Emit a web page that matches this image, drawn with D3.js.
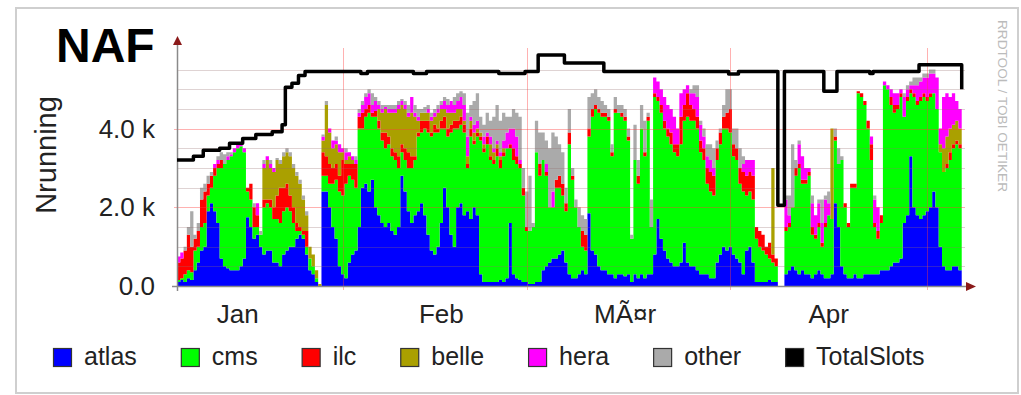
<!DOCTYPE html>
<html>
<head>
<meta charset="utf-8">
<script src="https://cdn.jsdelivr.net/npm/d3@7"></script>
<style>
  body { margin: 0; background: #fff; }
  svg { display: block; }
  text { font-family: "Liberation Sans", Arial, sans-serif; }
</style>
</head>
<body>
<svg id="chart" width="1021" height="395"></svg>
<script>
// Batch slots in use per experiment, sampled every 12 hours (Jan 6 18:00 .. May 6)
const seriesNames = ["atlas", "cms", "ilc", "belle", "hera", "other"];
const seriesColors = ["#0000ff", "#00ff00", "#ff0000", "#aaa000", "#ff00ff", "#aaaaaa"];
const monthLabels = ["Jan", "Feb", "MÃ¤r", "Apr"];
const yTickValues = [0, 2000, 4000];
const yTickLabels = ["0.0", "2.0 k", "4.0 k"];

const atlas = [100,150,100,200,150,400,600,900,1000,1900,
2100,1900,1600,700,500,450,400,400,400,500,
700,1750,1500,1200,1300,1000,800,900,900,600,
600,500,800,900,1000,1000,1200,1300,1200,800,
400,300,100,0,2400,2400,2000,1500,1200,500,
300,200,600,800,900,1500,2500,2600,2400,
2700,2000,1800,1600,1500,1600,1400,1300,1500,2800,
2400,1900,1600,1800,1900,2100,1800,1300,900,800,
1000,1600,2500,2000,1300,1000,2000,2100,1800,1900,
1700,2000,1800,300,100,100,100,100,100,150,
100,200,1600,300,200,150,100,100,50,50,
100,100,400,500,600,700,700,800,900,600,
300,200,200,300,400,300,1850,900,800,500,
400,400,300,300,200,300,300,250,300,100,
300,200,300,200,300,300,800,1700,1200,900,
700,600,500,500,600,1100,600,500,500,400,
300,300,300,200,200,600,800,1000,900,1000,
800,700,600,300,900,1000,600,100,100,100,
100,150,100,100,0,0,300,400,500,400,
300,400,300,300,200,300,400,300,200,200,
300,2100,1500,500,300,200,200,300,200,200,
300,300,300,300,300,400,400,400,500,600,
600,700,1600,1800,3300,2000,1800,1700,1800,1900,
2000,2400,2000,1000,500,400,400,500,500,400];

const cms = [50,50,200,200,200,500,400,600,600,400,
400,900,1400,2300,2600,2750,2900,3000,3100,3050,
2700,650,700,300,200,300,1200,1200,1100,1100,
1100,1100,1100,1100,900,600,200,100,100,200,
300,200,100,0,400,400,600,1100,1500,1900,
2000,2400,2200,1900,1600,2500,1500,1700,2000,
1600,2300,2200,2100,2000,2000,1900,1900,1500,600,
800,1100,1400,1400,1900,1800,2200,2600,2900,3100,
2900,2400,1500,1800,2600,3000,2000,2000,2100,1100,
2100,1600,2000,3400,3300,3500,3100,3000,3200,2850,
3200,3300,1900,2900,2900,2850,2200,1300,1350,1450,
3300,2700,2800,2300,1400,1300,1800,1700,1400,1300,
3300,2500,1800,1200,600,600,1950,3400,3700,3900,
3900,3900,3900,3000,4200,4100,4000,3950,3400,1100,
2900,2400,3700,3100,3900,1200,4000,3000,3200,3100,
3100,3000,2900,2800,3000,3100,3700,3700,3700,3600,
3100,2900,2300,2200,2100,2600,2800,3000,3100,2900,
2500,2500,2000,2100,1400,1400,1600,1100,900,800,
700,550,500,400,0,0,1100,1100,1500,2400,
2700,2200,2300,2500,1100,900,1100,700,1300,1600,
1400,1600,1600,2700,1700,1300,2300,2200,4700,4600,
4300,3700,2900,1200,900,1200,4700,4600,4100,3800,
3900,4100,2700,2900,1600,2800,2800,3000,3000,2800,
2800,2500,2500,2400,2400,2600,2800,3000,3100,3100];

const ilc = [450,500,600,900,650,300,400,700,800,300,
300,200,100,200,0,0,0,0,0,0,
0,100,400,500,300,0,200,100,200,300,
600,900,600,600,400,400,200,100,100,400,
0,0,0,0,600,500,500,400,400,400,
900,500,300,400,600,300,400,200,200,
100,150,200,200,400,200,200,200,300,200,
300,400,300,100,100,300,200,300,100,200,
100,200,300,200,200,200,200,200,200,100,
200,100,100,100,100,200,100,100,200,200,
100,0,100,300,200,100,200,100,0,0,
0,300,0,100,0,0,200,300,300,200,
300,100,0,0,400,400,200,200,100,100,
100,100,100,100,100,0,100,100,100,0,
0,200,0,100,100,0,100,100,200,200,
200,300,200,300,700,400,600,400,300,300,
300,300,400,500,500,300,300,300,400,600,
300,300,400,500,500,500,600,300,400,400,
200,400,200,200,0,0,100,100,0,200,
100,100,100,100,200,100,100,100,100,0,
0,100,0,0,100,100,100,100,50,100,
100,200,400,100,200,200,0,0,200,200,
100,100,0,100,100,100,100,100,100,100,
100,0,0,0,0,100,200,100,100,100];

const belle = [0,0,0,0,0,0,0,0,0,0,
0,0,0,0,0,0,0,0,0,0,
0,0,0,0,0,0,800,1000,800,900,
900,600,800,800,1000,1000,1200,1100,800,400,
300,300,200,50,300,1300,800,500,500,600,
200,100,200,100,0,0,0,0,0,
0,0,300,500,600,600,900,1000,1200,1000,
1000,900,1100,1000,300,200,200,200,300,200,
400,300,200,400,300,200,300,200,100,200,
200,200,100,100,100,0,300,200,100,100,
100,0,0,0,0,0,0,0,0,0,
0,0,0,0,0,0,0,0,0,0,
0,0,0,0,0,0,0,0,0,0,
0,0,0,0,0,0,0,0,0,0,
0,0,0,0,0,0,0,0,0,0,
0,0,0,0,0,0,0,0,0,0,
0,0,0,0,0,0,0,0,0,0,
0,0,0,0,0,0,0,0,0,0,
0,0,2200,0,0,0,0,0,0,0,
0,0,0,0,0,0,0,0,0,0,
2300,0,0,0,0,0,0,0,0,0,
0,0,0,0,0,0,0,0,0,0,
0,0,0,0,0,0,0,0,0,0,
0,0,0,200,600,700,600,500,500,400];

const hera = [150,150,0,0,0,0,0,0,0,0,
0,100,100,0,0,100,50,100,100,50,
100,0,0,0,300,0,100,100,100,100,
0,0,0,0,0,0,0,0,0,0,
0,0,0,0,100,0,100,200,100,200,
100,200,100,100,100,100,200,300,300,
200,250,100,100,50,100,100,100,100,100,
100,100,400,100,100,0,0,100,100,100,
100,100,200,200,300,200,200,300,400,500,
100,200,200,0,200,100,200,100,100,100,
200,400,400,500,500,100,0,0,0,0,
0,0,0,200,0,400,0,0,0,0,
0,0,0,0,0,0,0,0,0,0,
0,0,0,0,0,0,0,0,0,0,
0,0,0,0,0,0,400,400,400,600,
600,600,700,400,600,400,200,300,400,500,
400,300,300,300,200,0,0,0,0,0,
0,0,0,200,400,300,400,0,0,0,
0,0,0,0,0,0,700,200,0,0,
500,600,300,100,600,500,500,500,600,300,
0,0,0,0,0,0,0,0,0,0,
0,0,200,600,600,0,100,100,200,300,
300,100,500,200,100,200,400,400,400,500,
500,500,800,400,1300,1100,800,800,500,500];

const other = [0,0,100,200,900,100,200,300,200,200,
100,0,100,200,250,100,50,0,0,0,
0,0,0,100,0,100,100,0,100,0,
50,100,100,100,100,100,100,100,100,100,
0,0,0,0,50,100,0,0,100,0,
0,100,0,0,100,100,100,100,100,
300,100,100,100,50,100,100,100,100,50,
100,200,0,200,200,100,150,100,100,100,
100,100,100,150,0,200,200,150,300,600,
300,600,700,400,300,500,400,800,900,800,
700,400,300,500,600,1100,500,900,1400,100,
800,800,700,600,1500,1500,1100,800,800,400,
600,200,200,500,400,400,800,400,400,300,
300,200,200,200,300,200,200,200,200,100,
900,400,600,800,100,700,0,0,0,0,
0,0,0,0,0,0,0,100,200,300,
100,200,300,400,500,200,100,300,600,500,
400,500,500,200,0,0,0,0,0,0,
0,0,0,0,0,0,100,500,1600,200,
100,0,0,0,200,0,100,600,100,300,
0,200,400,100,0,0,0,0,0,0,
0,0,0,100,0,0,0,0,0,0,
0,0,100,100,100,200,200,100,100,100,
100,100,0,0,0,0,0,0,0,0];

// Configured slots; the final entry is the reading at the end of the period
const totalSlots = [3200,3200,3200,3200,3200,3300,3300,3300,3450,3450,
3450,3450,3450,3500,3500,3500,3630,3630,3630,3630,
3750,3750,3750,3750,3850,3850,3850,3850,3850,3920,
3920,3920,4100,5050,5050,5150,5150,5350,5350,5450,
5450,5450,5450,5450,5450,5450,5450,5450,5450,5450,
5450,5450,5450,5450,5450,5450,5400,5400,5450,5450,
5450,5450,5450,5450,5450,5450,5450,5450,5450,5450,
5450,5450,5400,5400,5400,5400,5450,5450,5450,5450,
5450,5450,5450,5450,5450,5450,5450,5450,5450,5450,
5450,5450,5450,5450,5450,5450,5450,5450,5400,5400,
5400,5400,5400,5400,5400,5400,5450,5450,5450,5450,
5870,5870,5870,5870,5870,5870,5870,5870,5670,5670,
5670,5670,5670,5670,5670,5670,5670,5670,5670,5670,
5450,5450,5450,5450,5450,5450,5450,5450,5450,5450,
5450,5450,5450,5450,5450,5450,5450,5450,5450,5450,
5450,5450,5450,5450,5450,5450,5450,5450,5450,5450,
5450,5450,5450,5450,5450,5450,5450,5450,5390,5390,
5390,5450,5450,5450,5450,5450,5450,5450,5450,5450,
5450,5450,5450,2050,2050,5450,5450,5450,5450,5450,
5450,5450,5450,5450,5450,5450,5450,4950,4950,4950,
4950,5450,5450,5450,5450,5450,5450,5450,5450,5450,
5450,5400,5450,5450,5450,5450,5450,5450,5450,5450,
5450,5450,5450,5450,5450,5450,5620,5620,5620,5620,
5620,5620,5620,5620,5620,5620,5620,5620,5620,5000];

const seriesValues = [atlas, cms, ilc, belle, hera, other];

const svg = d3.select("#chart");
const plot = { left: 177, right: 965, top: 48, bottom: 286 };
const HALF_DAY = 12 * 3600 * 1000;
const tStart = Date.UTC(2013, 0, 6, 18);
const tEnd = Date.UTC(2013, 4, 6, 18);

const x = d3.scaleUtc().domain([tStart, tEnd]).range([plot.left, plot.right]);
const y = d3.scaleLinear().domain([0, 6000]).range([plot.bottom, 286 - 6000 * 0.03935]);

// frame
svg.append("rect").attr("x", 16).attr("y", 8).attr("width", 1002).attr("height", 385)
  .attr("fill", "#fff").attr("stroke", "#cfcfcf").attr("stroke-width", 2);

// rows for stacking: each sample holds until the next one
const n = atlas.length;
const rows = d3.range(n + 1).map(i => {
  const k = Math.min(i, n - 1);
  const r = { t: tStart + i * HALF_DAY };
  seriesNames.forEach((s, j) => r[s] = seriesValues[j][k]);
  return r;
});
const stacked = d3.stack().keys(seriesNames)(rows);

svg.append("clipPath").attr("id", "plotClip").append("rect")
  .attr("x", plot.left).attr("y", plot.top).attr("width", plot.right - plot.left).attr("height", plot.bottom - plot.top);

const area = d3.area()
  .x(d => x(d.data.t))
  .y0(d => y(d[0]))
  .y1(d => y(d[1]))
  .curve(d3.curveStepAfter);

const gAreas = svg.append("g").attr("clip-path", "url(#plotClip)");
gAreas.selectAll("path").data(stacked).join("path")
  .attr("d", area)
  .attr("fill", (d, i) => seriesColors[i]);

// horizontal grid
const minorTicks = d3.range(500, 6000, 500).filter(v => v % 2000 !== 0);
const gGrid = svg.append("g");
gGrid.selectAll("line.minor").data(minorTicks).join("line")
  .attr("x1", plot.left).attr("x2", plot.right)
  .attr("y1", d => Math.round(y(d)) + 0.5).attr("y2", d => Math.round(y(d)) + 0.5)
  .attr("stroke", "rgba(150,110,110,0.3)").attr("stroke-width", 1);
gGrid.selectAll("line.major").data(yTickValues.filter(v => v > 0)).join("line")
  .attr("x1", plot.left - 3).attr("x2", plot.right)
  .attr("y1", d => Math.round(y(d)) + 0.5).attr("y2", d => Math.round(y(d)) + 0.5)
  .attr("stroke", "rgba(255,60,60,0.4)").attr("stroke-width", 1);

// month boundaries
const monthStarts = d3.utcMonth.range(d3.utcMonth.ceil(tStart), tEnd);
gGrid.selectAll("line.month").data(monthStarts).join("line")
  .attr("x1", d => Math.round(x(d)) + 0.5).attr("x2", d => Math.round(x(d)) + 0.5)
  .attr("y1", plot.top).attr("y2", plot.bottom + 4)
  .attr("stroke", "rgba(255,60,60,0.4)").attr("stroke-width", 1);

// axes
const axisColor = "#8a8a8a";
const arrowColor = "#8b1a1a";
svg.append("line").attr("x1", plot.left + 0.5).attr("x2", plot.left + 0.5)
  .attr("y1", plot.bottom + 5).attr("y2", 42).attr("stroke", axisColor).attr("stroke-width", 1.5);
svg.append("path").attr("d", `M${plot.left + 0.5},36 L${plot.left - 4},45 L${plot.left + 5},45 Z`).attr("fill", arrowColor);
svg.append("line").attr("x1", plot.left - 5).attr("x2", plot.right + 2)
  .attr("y1", plot.bottom + 0.5).attr("y2", plot.bottom + 0.5).attr("stroke", axisColor).attr("stroke-width", 1.5);
svg.append("path").attr("d", `M976,${plot.bottom + 0.5} L966,${plot.bottom - 4} L966,${plot.bottom + 5} Z`).attr("fill", arrowColor);

// total slots
const slotLine = d3.line()
  .x((d, i) => x(tStart + i * HALF_DAY))
  .y(d => y(d))
  .curve(d3.curveStepAfter);
svg.append("path").datum(totalSlots)
  .attr("d", slotLine)
  .attr("fill", "none").attr("stroke", "#000").attr("stroke-width", 3.5)
  .attr("stroke-linejoin", "round").attr("stroke-linecap", "butt");

// y tick labels
svg.selectAll("text.ytick").data(yTickValues).join("text")
  .attr("x", 155).attr("y", d => y(d))
  .attr("dy", "0.35em").attr("text-anchor", "end")
  .attr("font-size", 26).attr("fill", "#222")
  .text((d, i) => yTickLabels[i]);

// month labels, centred mid-month
const labelMonths = d3.utcMonth.range(d3.utcMonth.floor(tStart), tEnd).slice(0, monthLabels.length);
svg.selectAll("text.xtick").data(labelMonths).join("text")
  .attr("x", d => x(d3.utcDay.offset(d, 15)))
  .attr("y", 323).attr("text-anchor", "middle")
  .attr("font-size", 26).attr("fill", "#222")
  .text((d, i) => monthLabels[i]);

// y-axis title
svg.append("text").attr("transform", "translate(56,155) rotate(-90)")
  .attr("text-anchor", "middle").attr("font-size", 29).attr("fill", "#222")
  .text("Nrunning");

// title
svg.append("text").attr("x", 56).attr("y", 62)
  .attr("font-size", 48).attr("font-weight", "bold").attr("fill", "#000")
  .text("NAF");

// vertical credit
svg.append("text").attr("transform", "translate(998,20) rotate(90)")
  .attr("font-size", 13).attr("fill", "#bbb")
  .attr("textLength", 172).attr("lengthAdjust", "spacingAndGlyphs")
  .text("RRDTOOL / TOBI OETIKER");

// legend
const legendItems = seriesNames.map((s, i) => ({ name: s, color: seriesColors[i] }))
  .concat([{ name: "TotalSlots", color: "#000" }]);
let lx = 53;
const gLegend = svg.append("g");
legendItems.forEach(item => {
  gLegend.append("rect").attr("x", lx + 0.5).attr("y", 348.5).attr("width", 18).attr("height", 18)
    .attr("fill", item.color).attr("stroke", "#333").attr("stroke-width", 1.2);
  const t = gLegend.append("text").attr("x", lx + 31).attr("y", 365)
    .attr("font-size", 25).attr("fill", "#222").text(item.name);
  lx = lx + 31 + t.node().getComputedTextLength() + 44;
});
</script>
</body>
</html>
